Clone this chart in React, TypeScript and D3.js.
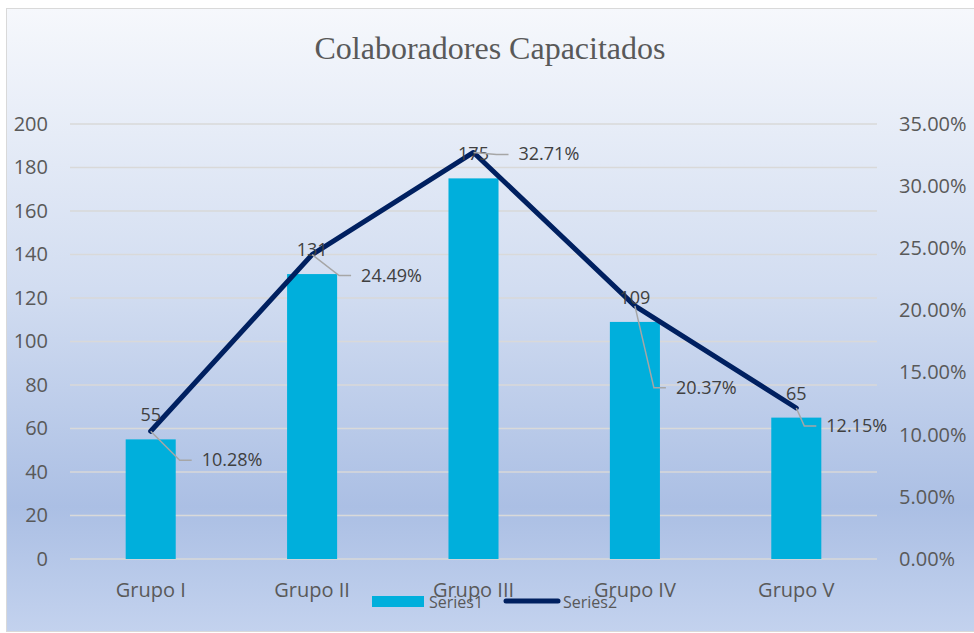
import * as d3 from 'd3';
import { useEffect, useRef } from 'react';

const categories = ['Grupo I', 'Grupo II', 'Grupo III', 'Grupo IV', 'Grupo V'];
const series1 = [55, 131, 175, 109, 65];
const series2 = [10.28, 24.49, 32.71, 20.37, 12.15];
const leftTicks = [0, 20, 40, 60, 80, 100, 120, 140, 160, 180, 200];
const rightTicks = [0, 5, 10, 15, 20, 25, 30, 35];

// where the percentage labels were dragged to (dx, dy of label start from the point)
const pctOffsets = [
  [51, 29],
  [49, 21],
  [45, 2],
  [41, 82],
  [30, 18],
];

function App() {
  const svgRef = useRef<SVGSVGElement>(null);

  useEffect(() => {
    const width = 974;
    const height = 633;
    const margin = { top: 124, right: 97, bottom: 74, left: 70 };

    const svg = d3.select(svgRef.current);
    svg.selectAll('*').remove();
    svg.attr('width', width).attr('height', height).style('display', 'block');

    const font = "'Open Sans', 'Noto Sans', sans-serif";
    const textColor = '#595959';

    const defs = svg.append('defs');
    const grad = defs.append('linearGradient')
      .attr('id', 'bg')
      .attr('x1', 0).attr('y1', 0).attr('x2', 0).attr('y2', 1);
    grad.append('stop').attr('offset', '0%').attr('stop-color', '#f6f8fc');
    grad.append('stop').attr('offset', '45%').attr('stop-color', '#d2ddf1');
    grad.append('stop').attr('offset', '80%').attr('stop-color', '#abbfe4');
    grad.append('stop').attr('offset', '100%').attr('stop-color', '#c3d2ee');

    svg.append('rect')
      .attr('x', 6.5).attr('y', 8.5)
      .attr('width', 990).attr('height', 623)
      .attr('fill', 'url(#bg)')
      .attr('stroke', '#d9d9d9');

    svg.append('text')
      .attr('x', 490).attr('y', 59)
      .attr('text-anchor', 'middle')
      .attr('font-family', "'Liberation Serif', 'Times New Roman', serif")
      .attr('font-size', 32)
      .attr('fill', textColor)
      .text('Colaboradores Capacitados');

    const x = d3.scaleBand()
      .domain(categories)
      .range([margin.left, width - margin.right])
      .paddingInner(0.69)
      .paddingOuter(0.345);

    const y = d3.scaleLinear()
      .domain([0, 200])
      .range([height - margin.bottom, margin.top]);

    const y2 = d3.scaleLinear()
      .domain([0, 35])
      .range([height - margin.bottom, margin.top]);

    const cx = (c: string) => (x(c) as number) + x.bandwidth() / 2;

    // gridlines
    svg.append('g')
      .selectAll('line')
      .data(leftTicks)
      .join('line')
      .attr('x1', margin.left)
      .attr('x2', width - margin.right)
      .attr('y1', d => y(d))
      .attr('y2', d => y(d))
      .attr('stroke', '#d9d9d9')
      .attr('stroke-width', 1.5);

    // left axis
    const yAxis = svg.append('g')
      .attr('transform', `translate(${margin.left - 22},0)`)
      .call(d3.axisLeft(y).tickValues(leftTicks).tickSize(0).tickPadding(0));
    yAxis.select('.domain').remove();
    yAxis.selectAll('text')
      .attr('font-family', font).attr('font-size', 20).attr('fill', textColor);

    // right axis
    const y2Axis = svg.append('g')
      .attr('transform', `translate(${width - margin.right + 22},0)`)
      .call(d3.axisRight(y2).tickValues(rightTicks).tickSize(0).tickPadding(0)
        .tickFormat(d => `${(d as number).toFixed(2)}%`));
    y2Axis.select('.domain').remove();
    y2Axis.selectAll('text')
      .attr('font-family', font).attr('font-size', 20).attr('fill', textColor);

    // category axis
    const xAxis = svg.append('g')
      .attr('transform', `translate(0,${height - margin.bottom + 24})`)
      .call(d3.axisBottom(x).tickSize(0).tickPadding(0));
    xAxis.select('.domain').remove();
    xAxis.selectAll('text')
      .attr('font-family', font).attr('font-size', 20).attr('fill', textColor);

    // bars
    svg.append('g')
      .selectAll('rect')
      .data(series1)
      .join('rect')
      .attr('x', (_, i) => x(categories[i]) as number)
      .attr('y', d => y(d))
      .attr('width', x.bandwidth())
      .attr('height', d => y(0) - y(d))
      .attr('fill', '#00afdc');

    // line
    const line = d3.line<number>()
      .x((_, i) => cx(categories[i]))
      .y(d => y2(d));

    svg.append('path')
      .datum(series2)
      .attr('fill', 'none')
      .attr('stroke', '#002060')
      .attr('stroke-width', 5)
      .attr('stroke-linecap', 'round')
      .attr('stroke-linejoin', 'round')
      .attr('d', line);

    // bar value labels
    svg.append('g')
      .selectAll('text')
      .data(series1)
      .join('text')
      .attr('x', (_, i) => cx(categories[i]))
      .attr('y', d => y(d) - 18)
      .attr('text-anchor', 'middle')
      .attr('font-family', font)
      .attr('font-size', 18)
      .attr('fill', '#404040')
      .text(d => d);

    // percentage labels with leader lines
    const pct = svg.append('g');
    series2.forEach((v, i) => {
      const px = cx(categories[i]);
      const py = y2(v);
      const [dx, dy] = pctOffsets[i];
      const lx = px + dx;
      const ly = py + dy;
      pct.append('polyline')
        .attr('points', `${px},${py} ${lx - 22},${ly} ${lx - 10},${ly}`)
        .attr('fill', 'none')
        .attr('stroke', '#a6a6a6')
        .attr('stroke-width', 1.5);
      pct.append('text')
        .attr('x', lx)
        .attr('y', ly + 6)
        .attr('font-family', font)
        .attr('font-size', 18)
        .attr('fill', '#404040')
        .text(`${v.toFixed(2)}%`);
    });

    // legend
    const legend = svg.append('g').attr('font-family', font).attr('font-size', 16).attr('fill', textColor);
    legend.append('rect')
      .attr('x', 372).attr('y', 596).attr('width', 52).attr('height', 11)
      .attr('fill', '#00afdc');
    legend.append('text').attr('x', 429).attr('y', 608).text('Series1');
    legend.append('line')
      .attr('x1', 506).attr('x2', 558).attr('y1', 601).attr('y2', 601)
      .attr('stroke', '#002060').attr('stroke-width', 5).attr('stroke-linecap', 'round');
    legend.append('text').attr('x', 563).attr('y', 608).text('Series2');
  }, []);

  return <svg ref={svgRef} style={{ position: 'absolute', left: 0, top: 0 }} />;
}

export default App;
